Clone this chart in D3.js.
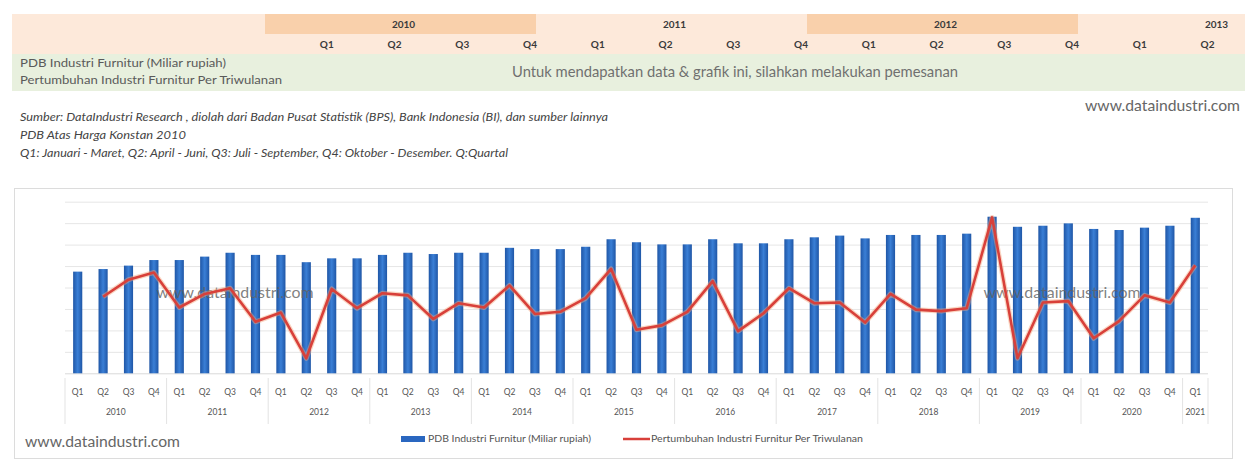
<!DOCTYPE html>
<html>
<head>
<meta charset="utf-8">
<script src="https://cdn.jsdelivr.net/npm/d3@7/dist/d3.min.js"></script>
<style>
  html, body { margin: 0; padding: 0; background: #ffffff; }
  svg { display: block; font-family: Lato, "Open Sans", "DejaVu Sans", sans-serif; }
</style>
</head>
<body>
<svg id="chart" width="1245" height="466"></svg>
<script>
// ---------------- DATA ----------------
const yearLabels = ['2010','2011','2012','2013','2014','2015','2016','2017','2018','2019','2020','2021'];
const quarterLabels = ['Q1','Q2','Q3','Q4'];
const quartersPerYear = [4,4,4,4,4,4,4,4,4,4,4,1];

// PDB Industri Furnitur (Miliar rupiah)
const pdbValues = [
  4740, 4860, 5020, 5280,
  5280, 5440, 5620, 5520,
  5520, 5180, 5360, 5360,
  5520, 5620, 5560, 5620,
  5620, 5850, 5790, 5790,
  5900, 6250, 6110, 6010,
  6010, 6250, 6060, 6060,
  6250, 6340, 6420, 6290,
  6450, 6450, 6450, 6510,
  7300, 6830, 6880, 6990,
  6730, 6680, 6790, 6880,
  7250
];

// Pertumbuhan Industri Furnitur Per Triwulanan (%)
const growthValues = [
  null, 1.7, 4.1, 5.1,
  0.2, 2.1, 2.9, -1.8,
  -0.5, -6.9, 2.8, 0.1,
  2.2, 1.9, -1.4, 0.8,
  0.2, 3.3, -0.7, -0.4,
  1.5, 5.6, -2.9, -2.3,
  -0.4, 3.9, -3.1, -0.6,
  2.9, 0.8, 0.9, -1.9,
  2.1, -0.1, -0.3, 0.1,
  12.8, -6.9, 0.9, 1.1,
  -4.1, -1.7, 1.9, 0.9,
  6.1
];

const headerYears = ['2010','2011','2012','2013'];
const headerShaded = ['2010','2012'];
const headerRowLabels = ['PDB Industri Furnitur (Miliar rupiah)', 'Pertumbuhan Industri Furnitur Per Triwulanan'];
const headerNotice = 'Untuk mendapatkan data & grafik ini, silahkan melakukan pemesanan';
const sourceNotes = [
  'Sumber: DataIndustri Research , diolah dari Badan Pusat Statistik (BPS), Bank Indonesia (BI), dan sumber lainnya',
  'PDB Atas Harga Konstan 2010',
  'Q1: Januari - Maret, Q2: April - Juni, Q3: Juli - September, Q4: Oktober - Desember. Q:Quartal'
];
const siteLabel = 'www.dataindustri.com';
const legendLabels = ['PDB Industri Furnitur (Miliar rupiah)', 'Pertumbuhan Industri Furnitur Per Triwulanan'];

// build the period list from years and quarters
const periods = [];
yearLabels.forEach((y, yi) => {
  for (let q = 0; q < quartersPerYear[yi]; q++) periods.push({ year: y, q: quarterLabels[q] });
});
const rows = periods.map((p, i) => ({ i, year: p.year, q: p.q, pdb: pdbValues[i], growth: growthValues[i] }));

// ---------------- DRAW ----------------
const svg = d3.select('#chart');
const W = 1245, H = 466;
svg.append('rect').attr('width', W).attr('height', H).attr('fill', '#ffffff');

// ---- header table ----
const hdr = svg.append('g');
hdr.append('rect').attr('x', 12).attr('y', 14).attr('width', W - 12).attr('height', 40).attr('fill', '#fde9da');
hdr.append('rect').attr('x', 12).attr('y', 54).attr('width', W - 12).attr('height', 37).attr('fill', '#e8f0de');

const hx = d3.scaleBand().domain(headerYears).range([265, 265 + 271 * headerYears.length]);
const hq = d3.scaleBand().domain(quarterLabels).range([0, hx.bandwidth()]);

hdr.selectAll('rect.yc').data(headerShaded).join('rect')
  .attr('class', 'yc')
  .attr('x', d => hx(d)).attr('y', 14)
  .attr('width', hx.bandwidth()).attr('height', 20)
  .attr('fill', '#f9d0ab');

hdr.selectAll('text.yt').data(headerYears).join('text')
  .attr('class', 'yt')
  .attr('x', d => hx(d) + hx.bandwidth() / 2 + 3)
  .attr('y', 28)
  .attr('text-anchor', 'middle')
  .attr('font-size', 10).attr('font-weight', 700).attr('fill', '#3a3a3a')
  .text(d => d);

const headerQ = [];
headerYears.forEach(y => quarterLabels.forEach(q => {
  const x = hx(y) + hq(q) + hq.bandwidth() - 6;
  if (x < W - 10) headerQ.push({ y, q, x });
}));
hdr.selectAll('text.qt').data(headerQ).join('text')
  .attr('class', 'qt')
  .attr('x', d => d.x).attr('y', 48)
  .attr('text-anchor', 'middle')
  .attr('font-size', 10).attr('font-weight', 700).attr('fill', '#3a3a3a')
  .text(d => d.q);

hdr.selectAll('text.rl').data(headerRowLabels).join('text')
  .attr('class', 'rl')
  .attr('x', 20).attr('y', (d, i) => 67 + i * 17)
  .attr('font-size', 11.5).attr('fill', '#5a5a5a')
  .attr('textLength', (d, i) => [206, 262][i]).attr('lengthAdjust', 'spacingAndGlyphs')
  .text(d => d);

hdr.append('text')
  .attr('x', 512).attr('y', 77)
  .attr('font-size', 15).attr('fill', '#707070')
  .attr('textLength', 446).attr('lengthAdjust', 'spacingAndGlyphs')
  .text(headerNotice);

// ---- notes ----
svg.selectAll('text.note').data(sourceNotes).join('text')
  .attr('class', 'note')
  .attr('x', 20).attr('y', (d, i) => 121 + i * 18)
  .attr('font-size', 10.5).attr('font-style', 'italic').attr('fill', '#444')
  .attr('textLength', (d, i) => [588, 166, 488][i]).attr('lengthAdjust', 'spacingAndGlyphs')
  .text(d => d);

svg.append('text')
  .attr('x', 1085).attr('y', 111)
  .attr('font-size', 15).attr('fill', '#666')
  .attr('textLength', 155).attr('lengthAdjust', 'spacingAndGlyphs')
  .text(siteLabel);

// ---- chart box ----
svg.append('rect')
  .attr('x', 14.5).attr('y', 188.5).attr('width', 1218).attr('height', 270)
  .attr('fill', '#ffffff').attr('stroke', '#dcdcdc').attr('stroke-width', 1);

const plot = { left: 65, right: 1208, top: 201.7, bottom: 373.3 };

const x = d3.scaleBand()
  .domain(rows.map(d => d.i))
  .range([plot.left, plot.right])
  .paddingInner(0.64).paddingOuter(0.32);

const yL = d3.scaleLinear().domain([0, 8000]).range([plot.bottom, plot.top]);
const yR = d3.scaleLinear().domain([-9, 15]).range([plot.bottom, plot.top]);

// gridlines
const grid = svg.append('g').attr('transform', `translate(${plot.left},0)`)
  .call(d3.axisLeft(yL).tickValues(d3.range(0, 8001, 1000)).tickSize(-(plot.right - plot.left)).tickFormat(''));
grid.select('.domain').remove();
grid.selectAll('.tick line').attr('stroke', '#e6e6e6').attr('stroke-width', 1);
grid.selectAll('.tick').filter(d => d === 0).select('line').attr('stroke', '#d9d9d9');

// bar gradient
const defs = svg.append('defs');
const grad = defs.append('linearGradient').attr('id', 'barGrad').attr('x1', '0%').attr('x2', '100%').attr('y1', '0%').attr('y2', '0%');
grad.append('stop').attr('offset', '0%').attr('stop-color', '#1f56a6');
grad.append('stop').attr('offset', '50%').attr('stop-color', '#3a7fd6');
grad.append('stop').attr('offset', '100%').attr('stop-color', '#1f56a6');

svg.append('g').selectAll('rect').data(rows).join('rect')
  .attr('x', d => x(d.i))
  .attr('y', d => yL(d.pdb))
  .attr('width', x.bandwidth())
  .attr('height', d => yL(0) - yL(d.pdb))
  .attr('fill', 'url(#barGrad)');

// watermarks inside plot
const wmPos = [235, 1062];
svg.selectAll('text.wm').data(wmPos).join('text')
  .attr('class', 'wm')
  .attr('x', d => d).attr('y', 298)
  .attr('text-anchor', 'middle')
  .attr('font-size', 15).attr('fill', '#606060').attr('fill-opacity', 0.8)
  .attr('textLength', 157).attr('lengthAdjust', 'spacingAndGlyphs')
  .text(siteLabel);

// growth line
const lineGen = d3.line()
  .defined(d => d.growth !== null)
  .x(d => x(d.i) + x.bandwidth() / 2)
  .y(d => yR(d.growth));

svg.append('path').datum(rows)
  .attr('d', lineGen).attr('fill', 'none')
  .attr('stroke', '#f3a37a').attr('stroke-opacity', 0.45).attr('stroke-width', 5)
  .attr('stroke-linejoin', 'round');
svg.append('path').datum(rows)
  .attr('d', lineGen).attr('fill', 'none')
  .attr('stroke', '#d8403a').attr('stroke-width', 2.6)
  .attr('stroke-linejoin', 'round');

// category axis: quarters
const axisG = svg.append('g');
axisG.selectAll('text.q').data(rows).join('text')
  .attr('class', 'q')
  .attr('x', d => x(d.i) + x.bandwidth() / 2).attr('y', 395)
  .attr('text-anchor', 'middle')
  .attr('font-size', 8.5).attr('fill', '#555')
  .text(d => d.q);

// years
const yearGroups = yearLabels.map((y, yi) => {
  const idx = rows.filter(r => r.year === y).map(r => r.i);
  const step = x.step();
  const x0 = x(idx[0]) - (x.step() - x.bandwidth()) / 2;
  const x1 = x0 + idx.length * step;
  return { y, x0, x1 };
});
axisG.selectAll('text.yr').data(yearGroups).join('text')
  .attr('class', 'yr')
  .attr('x', d => (d.x0 + d.x1) / 2).attr('y', 415)
  .attr('text-anchor', 'middle')
  .attr('font-size', 8.5).attr('fill', '#555')
  .text(d => d.y);
const seps = [yearGroups[0].x0].concat(yearGroups.map(d => d.x1));
axisG.selectAll('line.sep').data(seps).join('line')
  .attr('class', 'sep')
  .attr('x1', d => d).attr('x2', d => d)
  .attr('y1', 378).attr('y2', 424)
  .attr('stroke', '#e3e3e3').attr('stroke-width', 1);

// legend
const leg = svg.append('g');
leg.append('rect').attr('x', 401).attr('y', 436).attr('width', 24).attr('height', 6).attr('fill', '#2a67c0');
leg.append('text').attr('x', 428).attr('y', 442)
  .attr('font-size', 9).attr('fill', '#555')
  .attr('textLength', 163).attr('lengthAdjust', 'spacingAndGlyphs')
  .text(legendLabels[0]);
leg.append('line').attr('x1', 623).attr('x2', 650).attr('y1', 439).attr('y2', 439)
  .attr('stroke', '#d8403a').attr('stroke-width', 2.5);
leg.append('text').attr('x', 651).attr('y', 442)
  .attr('font-size', 9).attr('fill', '#555')
  .attr('textLength', 212).attr('lengthAdjust', 'spacingAndGlyphs')
  .text(legendLabels[1]);

// bottom-left site label
svg.append('text')
  .attr('x', 25).attr('y', 447)
  .attr('font-size', 15.5).attr('fill', '#666')
  .attr('textLength', 155).attr('lengthAdjust', 'spacingAndGlyphs')
  .text(siteLabel);
</script>
</body>
</html>
